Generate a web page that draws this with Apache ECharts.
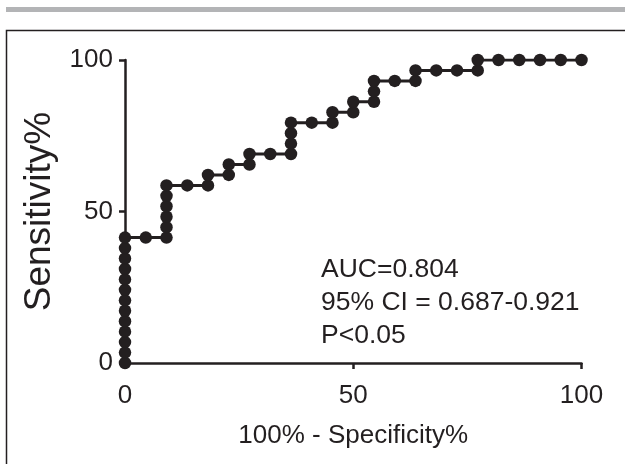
<!DOCTYPE html>
<html>
<head>
<meta charset="utf-8">
<script src="https://cdn.jsdelivr.net/npm/echarts@6/dist/echarts.min.js"></script>
<style>html,body{margin:0;padding:0;background:#fff}#c{width:625px;height:464px}</style>
</head>
<body>
<div id="c"></div>
<script>
// 100% - Specificity% (x) and Sensitivity% (y) of each ROC point, in drawing order
var fpr = [0,0,0,0,0,0,0,0,0,0,0,0,0,
  4.55,
  9.09,9.09,9.09,9.09,9.09,9.09,
  13.64,
  18.18,18.18,
  22.73,22.73,
  27.27,27.27,
  31.82,
  36.36,36.36,36.36,36.36,
  40.91,
  45.45,45.45,
  50,50,
  54.55,54.55,54.55,
  59.09,
  63.64,63.64,
  68.18,
  72.73,
  77.27,77.27,
  81.82,86.36,90.91,95.45,100];
var tpr = [0,3.45,6.9,10.34,13.79,17.24,20.69,24.14,27.59,31.03,34.48,37.93,41.38,
  41.38,
  41.38,44.83,48.28,51.72,55.17,58.62,
  58.62,
  58.62,62.07,
  62.07,65.52,
  65.52,68.97,
  68.97,
  68.97,72.41,75.86,79.31,
  79.31,
  79.31,82.76,
  82.76,86.21,
  86.21,89.66,93.1,
  93.1,
  93.1,96.55,
  96.55,
  96.55,
  96.55,100,
  100,100,100,100,100];
var xTicks = [0, 50, 100];
var yTicks = [0, 50, 100];
var notes = ['AUC=0.804', '95% CI = 0.687-0.921', 'P<0.05'];
var xTitle = '100% - Specificity%';
var yTitle = 'Sensitivity%';

var pts = fpr.map(function (x, i) { return [x, tpr[i]]; });
var ink = '#231f20';
var font = 'Liberation Sans, Arial, sans-serif';

var chart = echarts.init(document.getElementById('c'), null, {renderer: 'canvas'});
var axisCommon = {
  type: 'value', min: 0, max: 100, interval: 50,
  axisLine: {show: true, lineStyle: {color: ink, width: 2.5}},
  axisTick: {show: true, length: 6, lineStyle: {color: ink, width: 2.5}},
  splitLine: {show: false},
  nameLocation: 'middle',
  nameTextStyle: {color: ink, fontFamily: font, fontSize: 26}
};
chart.setOption({
  animation: false,
  grid: {left: 125, right: 43.5, top: 60, bottom: 101, containLabel: false},
  xAxis: Object.assign({}, axisCommon, {
    name: xTitle, nameGap: 60,
    axisLabel: {color: ink, fontFamily: font, fontSize: 26, margin: 20,
      formatter: function (v) { return xTicks.indexOf(v) >= 0 ? String(v) : ''; }}
  }),
  yAxis: Object.assign({}, axisCommon, {
    name: yTitle, nameGap: 58,
    nameTextStyle: {color: ink, fontFamily: font, fontSize: 37},
    axisLabel: {color: ink, fontFamily: font, fontSize: 26, margin: 12,
      formatter: function (v) { return yTicks.indexOf(v) >= 0 ? String(v) : ''; }}
  }),
  graphic: [
    {type: 'rect', shape: {x: 6, y: 7, width: 625, height: 5}, style: {fill: '#b3b4b6'}},
    {type: 'rect', shape: {x: 6.5, y: 30.5, width: 640, height: 460}, style: {fill: 'none', stroke: ink, lineWidth: 1.5}},
    {type: 'text', left: 321, top: 256, style: {text: notes[0], fill: ink, font: '26.5px ' + font}},
    {type: 'text', left: 321, top: 289, style: {text: notes[1], fill: ink, font: '26.5px ' + font}},
    {type: 'text', left: 321, top: 322, style: {text: notes[2], fill: ink, font: '26.5px ' + font}}
  ],
  series: [{
    type: 'line', data: pts, symbol: 'circle', symbolSize: 12.5, showSymbol: true,
    lineStyle: {color: ink, width: 3}, itemStyle: {color: ink}, z: 3
  }]
});
</script>
</body>
</html>
